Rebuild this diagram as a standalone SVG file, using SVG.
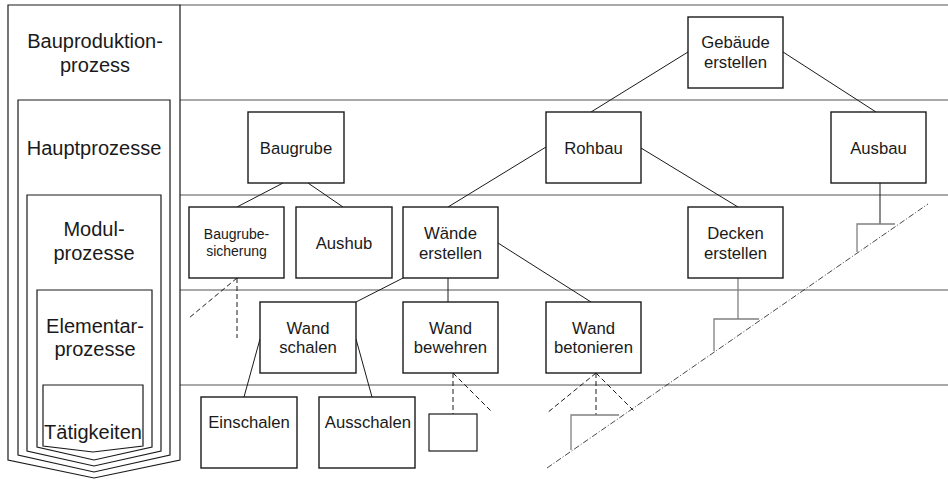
<svg xmlns="http://www.w3.org/2000/svg" width="948" height="479" viewBox="0 0 948 479">
  <style>
    .band { stroke: #8c8c8c; stroke-width: 1.5; fill: none; }
    .frame { stroke: #1a1a1a; stroke-width: 1.2; fill: #ffffff; }
    .box { stroke: #1a1a1a; stroke-width: 1.4; fill: #ffffff; }
    .edge { stroke: #1a1a1a; stroke-width: 1; fill: none; }
    .dash { stroke: #1a1a1a; stroke-width: 1; fill: none; stroke-dasharray: 5 3; }
    .bracket { stroke: #808080; stroke-width: 1.3; fill: none; }
    .dashdot { stroke: #333333; stroke-width: 0.9; fill: none; stroke-dasharray: 6 2 1 2; }
    text { font-family: "Liberation Sans", Arial, sans-serif; fill: #1a1a1a; text-anchor: middle; }
    .lvl { font-size: 20px; }
    .lbl { font-size: 16.7px; }
    .sm { font-size: 14px; }
  </style>

  <!-- horizontal level bands -->
  <g id="bands">
    <line class="band" x1="180" y1="5" x2="948" y2="5"/>
    <line class="band" x1="180" y1="100" x2="948" y2="100"/>
    <line class="band" x1="180" y1="195" x2="948" y2="195"/>
    <line class="band" x1="180" y1="290" x2="948" y2="290"/>
    <line class="band" x1="180" y1="385" x2="948" y2="385"/>
  </g>

  <!-- nested process levels on the left -->
  <g id="levels">
    <path class="frame" d="M8,5 L180,5 L180,460 L94,478 L8,460 Z"/>
    <path class="frame" d="M18,100 L170,100 L170,455 L94,472 L18,455 Z"/>
    <path class="frame" d="M27,195 L161,195 L161,451 L94,466 L27,451 Z"/>
    <path class="frame" d="M37,290 L152,290 L152,447 L94,460 L37,447 Z"/>
    <path class="frame" d="M43,385 L143,385 L143,446 L93,452 L43,446 Z"/>
    <text class="lvl" x="95" y="48">Bauproduktion-</text>
    <text class="lvl" x="95" y="72">prozess</text>
    <text class="lvl" x="94" y="155">Hauptprozesse</text>
    <text class="lvl" x="94" y="236">Modul-</text>
    <text class="lvl" x="94" y="260">prozesse</text>
    <text class="lvl" x="95" y="333">Elementar-</text>
    <text class="lvl" x="95" y="356">prozesse</text>
    <text class="lvl" x="93" y="439">Tätigkeiten</text>
  </g>

  <!-- connectors -->
  <g id="connectors">
    <line class="edge" x1="688" y1="52" x2="591" y2="112"/>
    <line class="edge" x1="783" y1="52" x2="876" y2="112"/>
    <line class="edge" x1="546" y1="147" x2="448" y2="207"/>
    <line class="edge" x1="641" y1="148" x2="738" y2="207"/>
    <line class="edge" x1="283" y1="183" x2="237" y2="207"/>
    <line class="edge" x1="308" y1="183" x2="343" y2="207"/>
    <line class="edge" x1="403" y1="278" x2="356" y2="302"/>
    <line class="edge" x1="448" y1="278" x2="448" y2="302"/>
    <line class="edge" x1="498" y1="243" x2="591" y2="302"/>
    <line class="edge" x1="260" y1="339" x2="244" y2="397"/>
    <line class="edge" x1="356" y1="339" x2="372" y2="397"/>
    <!-- stubs towards the staggered lower levels -->
    <line class="edge" x1="880" y1="183" x2="880" y2="224"/>
    <polyline class="bracket" points="857,252 857,224 895,224"/>
    <line class="bracket" x1="738" y1="278" x2="738" y2="319"/>
    <polyline class="bracket" points="714,351 714,319 759,319"/>
    <line class="dash" x1="596" y1="373" x2="596" y2="415"/>
    <line class="dash" x1="596" y1="373" x2="547" y2="413"/>
    <line class="dash" x1="596" y1="373" x2="634" y2="411"/>
    <polyline class="bracket" points="571,450 571,415 619,415"/>
    <line class="dash" x1="453" y1="373" x2="453" y2="414"/>
    <line class="dash" x1="453" y1="373" x2="492" y2="412"/>
    <line class="dash" x1="237" y1="278" x2="237" y2="338"/>
    <line class="dash" x1="237" y1="278" x2="189" y2="318"/>
    <line class="dashdot" x1="547" y1="468" x2="928" y2="204"/>
  </g>

  <g id="gebaeude">
    <rect class="box" x="688" y="17" width="95" height="71"/>
    <text class="lbl" x="735.5" y="48">Gebäude</text>
    <text class="lbl" x="735.5" y="67.5">erstellen</text>
  </g>
  <g id="baugrube">
    <rect class="box" x="248" y="112" width="96" height="71"/>
    <text class="lbl" x="296" y="153.5">Baugrube</text>
  </g>
  <g id="rohbau">
    <rect class="box" x="546" y="112" width="95" height="71"/>
    <text class="lbl" x="593.5" y="153.5">Rohbau</text>
  </g>
  <g id="ausbau">
    <rect class="box" x="831" y="112" width="95" height="71"/>
    <text class="lbl" x="878.5" y="153.5">Ausbau</text>
  </g>
  <g id="baugrubesicherung">
    <rect class="box" x="189" y="207" width="95" height="71"/>
    <text class="sm" x="236.5" y="238.5">Baugrube-</text>
    <text class="sm" x="236.5" y="256">sicherung</text>
  </g>
  <g id="aushub">
    <rect class="box" x="296" y="207" width="96" height="71"/>
    <text class="lbl" x="344" y="248.5">Aushub</text>
  </g>
  <g id="waende">
    <rect class="box" x="403" y="207" width="95" height="71"/>
    <text class="lbl" x="450.5" y="238.5">Wände</text>
    <text class="lbl" x="450.5" y="258.5">erstellen</text>
  </g>
  <g id="decken">
    <rect class="box" x="688" y="207" width="95" height="71"/>
    <text class="lbl" x="735.5" y="238.5">Decken</text>
    <text class="lbl" x="735.5" y="258.5">erstellen</text>
  </g>
  <g id="wandschalen">
    <rect class="box" x="260" y="302" width="96" height="71"/>
    <text class="lbl" x="308" y="333.5">Wand</text>
    <text class="lbl" x="308" y="353">schalen</text>
  </g>
  <g id="wandbewehren">
    <rect class="box" x="403" y="302" width="95" height="71"/>
    <text class="lbl" x="450.5" y="333.5">Wand</text>
    <text class="lbl" x="450.5" y="353">bewehren</text>
  </g>
  <g id="wandbetonieren">
    <rect class="box" x="546" y="302" width="95" height="71"/>
    <text class="lbl" x="593.5" y="333.5">Wand</text>
    <text class="lbl" x="593.5" y="353">betonieren</text>
  </g>
  <g id="einschalen">
    <rect class="box" x="201" y="397" width="96" height="71"/>
    <text class="lbl" x="249" y="428">Einschalen</text>
  </g>
  <g id="ausschalen">
    <rect class="box" x="319" y="397" width="96" height="71"/>
    <text class="lbl" x="368" y="428">Ausschalen</text>
  </g>
  <g id="taetigkeit">
    <rect class="frame" x="429" y="414" width="48" height="37"/>
  </g>
</svg>
